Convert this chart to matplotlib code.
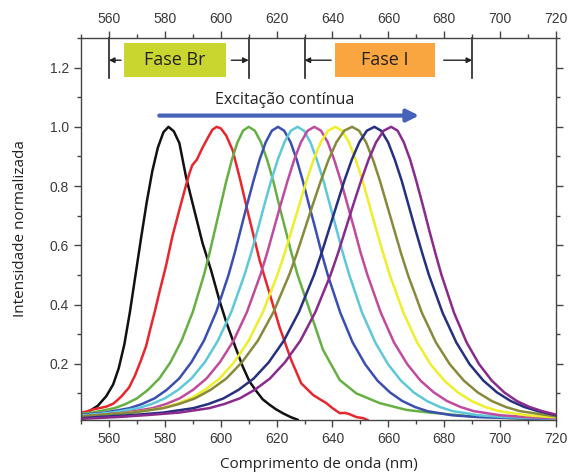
import matplotlib
matplotlib.use("Agg")
import matplotlib.pyplot as plt
from matplotlib.ticker import MultipleLocator
from matplotlib.patches import Rectangle

# spectra (wavelength in nm, normalized intensity)
wl_black = [550, 553, 556, 559, 561.5, 563.5, 565.5, 567.5, 569.5, 571.5, 573.5, 575.5, 577.5, 579.5, 581.3,
            583.2, 585.2, 587.6, 590.5, 593.5, 596.5, 599.5, 602, 604.3, 607.9, 610.3, 612.7, 615, 617.4,
            619.8, 622.2, 625, 627.5]
int_black = [0.030, 0.040, 0.058, 0.090, 0.130, 0.185, 0.265, 0.375, 0.500, 0.625, 0.745, 0.850, 0.930, 0.982,
             1.0, 0.985, 0.945, 0.830, 0.720, 0.607, 0.517, 0.415, 0.340, 0.280, 0.190, 0.140, 0.108, 0.080,
             0.062, 0.046, 0.033, 0.020, 0.011]

wl_red = [550, 551.7, 554, 556.5, 559, 561.5, 562.4, 564.5, 567.2, 569.3, 571.4, 573.3, 575, 576.5, 578, 580.4,
          582.7, 585.2, 587.5, 588.7, 589.8, 591.5, 593.5, 595.5, 597, 598.5, 600, 602, 604.3, 607, 610, 613.9,
          617.4, 621, 625.2, 628.8, 633, 635.5, 637.8, 640, 642.6, 644.5, 646, 648.5, 651, 652.5]
int_red = [0.035, 0.038, 0.045, 0.05, 0.055, 0.065, 0.072, 0.09, 0.12, 0.16, 0.21, 0.26, 0.325, 0.38, 0.44, 0.53,
           0.63, 0.72, 0.80, 0.84, 0.87, 0.89, 0.93, 0.965, 0.99, 1.0, 0.995, 0.97, 0.92, 0.82, 0.70, 0.55,
           0.44, 0.325, 0.213, 0.134, 0.095, 0.08, 0.067, 0.05, 0.033, 0.034, 0.03, 0.02, 0.016, 0.01]

wl_green = [550, 554, 562, 566, 570, 574, 578, 582, 586, 590, 594, 596, 598, 600, 602, 604, 606, 608, 610,
            612.2, 614.4, 616.6, 618.8, 620.9, 623.1, 625.3, 627.5, 630.6, 636.6, 642.6, 648.5, 656.9, 666.5,
            674.8, 690, 705, 720]
int_green = [0.031, 0.035, 0.050, 0.064, 0.083, 0.112, 0.150, 0.205, 0.278, 0.375, 0.500, 0.574, 0.655, 0.736,
             0.817, 0.889, 0.948, 0.987, 1.0, 0.987, 0.948, 0.889, 0.817, 0.736, 0.655, 0.574, 0.500, 0.415,
             0.247, 0.145, 0.100, 0.067, 0.044, 0.035, 0.022, 0.016, 0.012]

wl_blue = [550, 558.6, 567.4, 571.8, 576.3, 580.7, 585.1, 589.5, 594.0, 598.4, 602.8, 605.0, 607.2, 609.4,
           611.7, 613.9, 616.1, 618.3, 620.5, 622.7, 625.0, 627.2, 629.4, 631.6, 633.9, 636.1, 638.3, 642.8,
           647.2, 651.7, 656.1, 660.6, 665.0, 669.5, 673.9, 682.8, 691.7, 720]
int_blue = [0.027, 0.035, 0.050, 0.064, 0.083, 0.112, 0.150, 0.205, 0.278, 0.375, 0.500, 0.574, 0.655, 0.736,
            0.817, 0.889, 0.948, 0.987, 1.0, 0.987, 0.948, 0.889, 0.817, 0.736, 0.655, 0.574, 0.500, 0.372,
            0.272, 0.198, 0.143, 0.103, 0.074, 0.054, 0.040, 0.026, 0.020, 0.012]

wl_cyan = [550, 561.0, 570.5, 575.3, 580.0, 584.8, 589.5, 594.3, 599.0, 603.8, 608.5, 610.9, 613.3, 615.6,
           618.0, 620.4, 622.8, 625.1, 627.5, 629.8, 632.1, 634.4, 636.8, 639.1, 641.4, 643.7, 646.0, 650.6,
           655.3, 659.9, 664.5, 669.1, 673.8, 678.4, 683.0, 692.3, 701.5, 720]
int_cyan = [0.025, 0.035, 0.050, 0.064, 0.083, 0.112, 0.150, 0.205, 0.278, 0.375, 0.500, 0.574, 0.655, 0.736,
            0.817, 0.889, 0.948, 0.987, 1.0, 0.987, 0.948, 0.889, 0.817, 0.736, 0.655, 0.574, 0.500, 0.372,
            0.272, 0.198, 0.143, 0.103, 0.074, 0.054, 0.040, 0.026, 0.020, 0.014]

wl_magenta = [550, 556.3, 566.0, 575.6, 580.4, 585.3, 590.1, 594.9, 599.7, 604.6, 609.4, 614.2, 616.6, 619.0,
              621.4, 623.9, 626.3, 628.7, 631.1, 633.5, 635.9, 638.3, 640.6, 643.0, 645.4, 647.8, 650.1, 652.5,
              657.3, 662.0, 666.8, 671.5, 676.3, 681.0, 685.8, 690.5, 700.0, 709.5, 720]
int_magenta = [0.022, 0.027, 0.035, 0.050, 0.064, 0.083, 0.112, 0.150, 0.205, 0.278, 0.375, 0.500, 0.574, 0.655,
               0.736, 0.817, 0.889, 0.948, 0.987, 1.0, 0.987, 0.948, 0.889, 0.817, 0.736, 0.655, 0.574, 0.500,
               0.372, 0.272, 0.198, 0.143, 0.103, 0.074, 0.054, 0.040, 0.026, 0.020, 0.016]

wl_yellow = [550, 558.2, 568.6, 578.9, 584.1, 589.3, 594.4, 599.6, 604.8, 610.0, 615.1, 620.3, 622.9, 625.5,
             628.1, 630.7, 633.2, 635.8, 638.4, 641.0, 643.4, 645.9, 648.3, 650.8, 653.2, 655.6, 658.1, 660.5,
             665.4, 670.3, 675.1, 680.0, 684.9, 689.8, 694.6, 699.5, 709.3, 720]
int_yellow = [0.020, 0.027, 0.035, 0.050, 0.064, 0.083, 0.112, 0.150, 0.205, 0.278, 0.375, 0.500, 0.574, 0.655,
              0.736, 0.817, 0.889, 0.948, 0.987, 1.0, 0.987, 0.948, 0.889, 0.817, 0.736, 0.655, 0.574, 0.500,
              0.372, 0.272, 0.198, 0.143, 0.103, 0.074, 0.054, 0.040, 0.026, 0.019]

wl_olive = [550, 557.0, 568.3, 579.5, 585.1, 590.8, 596.4, 602.0, 607.6, 613.3, 618.9, 624.5, 627.3, 630.1,
            632.9, 635.8, 638.6, 641.4, 644.2, 647.0, 649.5, 652.0, 654.5, 657.0, 659.5, 662.0, 664.5, 667.0,
            672.0, 677.0, 682.0, 687.0, 692.0, 697.0, 702.0, 707.0, 720]
int_olive = [0.022, 0.027, 0.035, 0.050, 0.064, 0.083, 0.112, 0.150, 0.205, 0.278, 0.375, 0.500, 0.574, 0.655,
             0.736, 0.817, 0.889, 0.948, 0.987, 1.0, 0.987, 0.948, 0.889, 0.817, 0.736, 0.655, 0.574, 0.500,
             0.372, 0.272, 0.198, 0.143, 0.103, 0.074, 0.054, 0.040, 0.022]

wl_navy = [550, 557.8, 568.6, 579.4, 590.2, 595.6, 601.0, 606.4, 611.8, 617.2, 622.6, 628.0, 633.4, 636.1,
           638.8, 641.5, 644.2, 646.9, 649.6, 652.3, 655.0, 657.4, 659.9, 662.3, 664.8, 667.2, 669.6, 672.1,
           674.5, 679.4, 684.3, 689.1, 694.0, 698.9, 703.8, 708.6, 713.5, 720]
int_navy = [0.016, 0.021, 0.027, 0.035, 0.050, 0.064, 0.083, 0.112, 0.150, 0.205, 0.278, 0.375, 0.500, 0.574,
            0.655, 0.736, 0.817, 0.889, 0.948, 0.987, 1.0, 0.987, 0.948, 0.889, 0.817, 0.736, 0.655, 0.574,
            0.500, 0.372, 0.272, 0.198, 0.143, 0.103, 0.074, 0.054, 0.040, 0.026]

wl_purple = [550, 563.4, 574.2, 585.1, 595.9, 601.3, 606.8, 612.2, 617.6, 623.0, 628.5, 633.9, 639.3, 642.0,
             644.7, 647.4, 650.2, 652.9, 655.6, 658.3, 661.0, 663.3, 665.5, 667.8, 670.0, 672.3, 674.5, 676.8,
             679.0, 683.5, 688.0, 692.5, 697.0, 701.5, 706.0, 710.5, 715.0, 720]
int_purple = [0.014, 0.020, 0.027, 0.035, 0.050, 0.064, 0.083, 0.112, 0.150, 0.205, 0.278, 0.375, 0.500, 0.574,
              0.655, 0.736, 0.817, 0.889, 0.948, 0.987, 1.0, 0.987, 0.948, 0.889, 0.817, 0.736, 0.655, 0.574,
              0.500, 0.372, 0.272, 0.198, 0.143, 0.103, 0.074, 0.054, 0.040, 0.028]

series = [
    (wl_black, int_black, "#111111"),
    (wl_red, int_red, "#e8262e"),
    (wl_green, int_green, "#66b043"),
    (wl_blue, int_blue, "#3a4fb0"),
    (wl_cyan, int_cyan, "#5ec8d8"),
    (wl_magenta, int_magenta, "#c04a9e"),
    (wl_yellow, int_yellow, "#eeee2a"),
    (wl_olive, int_olive, "#878a3a"),
    (wl_navy, int_navy, "#26307e"),
    (wl_purple, int_purple, "#8a2a8c"),
]

# phase markers (nm)
phase_bars = [560, 610, 630, 690]
phase_labels = ["Fase Br", "Fase I"]
phase_boxes = [(565.4, 601.8), (640.8, 676.6)]
phase_colors = ["#c9d630", "#f9a640"]
phase_arrows = [(564.3, 560), (603.8, 610), (639.5, 630), (679.8, 690)]

fig = plt.figure(figsize=(5.69, 4.75), dpi=100)
ax = fig.add_axes([0.1424, 0.1158, 0.8348, 0.8042])

for x, y, c in series:
    ax.plot(x, y, color=c, lw=1.8, solid_joinstyle="round")

ax.set_xlim(550, 720)
ax.set_ylim(0.01, 1.30)

ax.xaxis.set_major_locator(MultipleLocator(20))
ax.xaxis.set_minor_locator(MultipleLocator(10))
ax.yaxis.set_major_locator(MultipleLocator(0.2))
ax.yaxis.set_minor_locator(MultipleLocator(0.1))
ax.tick_params(which="both", direction="out", top=True, right=True, labeltop=True,
               color="#444444", width=1.0, labelsize=10, labelcolor="#3a3a3a")
ax.tick_params(which="major", length=5)
ax.tick_params(which="minor", length=3)
for lab in ax.get_xticklabels() + ax.get_yticklabels():
    lab.set_fontfamily("Liberation Sans")
for lab in ax.xaxis.get_ticklabels(which="major"):
    lab.set_fontfamily("Liberation Sans")
for spine in ax.spines.values():
    spine.set_color("#444444")
    spine.set_linewidth(1.0)

ax.set_xlabel("Comprimento de onda (nm)", fontsize=11, family="Open Sans", color="#222222", labelpad=8)
ax.set_ylabel("Intensidade normalizada", fontsize=11, family="Open Sans", color="#222222", labelpad=16)

# phase annotations
for xb in phase_bars:
    ax.plot([xb, xb], [1.165, 1.30], color="#222222", lw=1.2, clip_on=False)
for (x0, x1), lab, c in zip(phase_boxes, phase_labels, phase_colors):
    ax.add_patch(Rectangle((x0, 1.168), x1 - x0, 0.115, facecolor=c, edgecolor="none"))
    ax.text((x0 + x1) / 2, 1.2255, lab, ha="center", va="center", fontsize=13,
            family="Open Sans", color="#222222")
for xs, xe in phase_arrows:
    ax.annotate("", xy=(xe, 1.225), xytext=(xs, 1.225),
                arrowprops=dict(arrowstyle="-|>", color="#222222", lw=1.0,
                                mutation_scale=8, shrinkA=0, shrinkB=0))

ax.text(622.8, 1.09, "Excitação contínua", ha="center", va="center", fontsize=11.5,
        family="Open Sans", color="#222222")
ax.annotate("", xy=(671, 1.038), xytext=(578, 1.038),
            arrowprops=dict(arrowstyle="-|>", color="#4662b8", lw=3,
                            mutation_scale=18, shrinkA=0, shrinkB=0))

fig.savefig("out.png", dpi=100)
